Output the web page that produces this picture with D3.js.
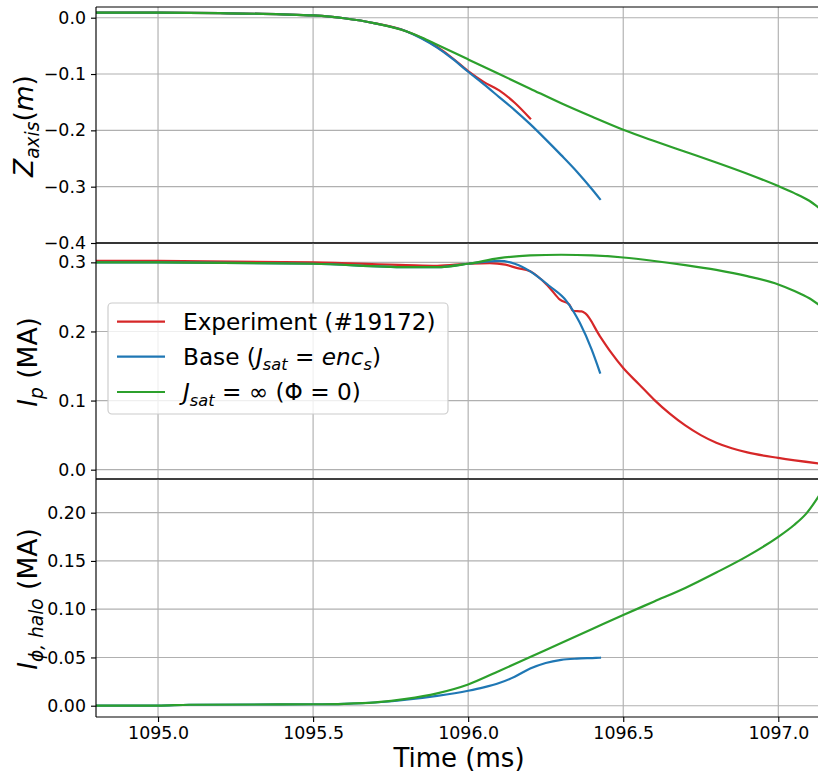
<!DOCTYPE html>
<html><head><meta charset="utf-8">
<script src="https://cdn.jsdelivr.net/npm/d3@7"></script>
<style>
body{margin:0;background:#fff}
text{font-family:"DejaVu Sans",sans-serif;fill:#000}
</style>
</head><body><svg id="c" width="818" height="772"></svg>
<script>
// ---------------- data ----------------
const seriesNames = ["Experiment (#19172)", "Base (J_sat = enc_s)", "J_sat = ∞ (Φ = 0)"];
const seriesColors = ["#d62728", "#1f77b4", "#2ca02c"];

const xTicks = [1095.0, 1095.5, 1096.0, 1096.5, 1097.0];
const zTicks = [0.0, -0.1, -0.2, -0.3, -0.4];
const ipTicks = [0.0, 0.1, 0.2, 0.3];
const haloTicks = [0.0, 0.05, 0.10, 0.15, 0.20];

// Z_axis (m)
const zExpT = [1094.8, 1095.0, 1095.2, 1095.4, 1095.5, 1095.6, 1095.7, 1095.8, 1095.85, 1095.9, 1095.95, 1096.0, 1096.05, 1096.1, 1096.15, 1096.2];
const zExpV = [0.009, 0.009, 0.008, 0.006, 0.004, -0.001, -0.010, -0.024, -0.036, -0.052, -0.072, -0.095, -0.114, -0.129, -0.151, -0.179];
const zBaseT = [1094.8, 1095.0, 1095.2, 1095.4, 1095.5, 1095.6, 1095.7, 1095.8, 1095.85, 1095.9, 1095.95, 1096.0, 1096.05, 1096.1, 1096.15, 1096.2, 1096.25, 1096.3, 1096.35, 1096.4, 1096.425];
const zBaseV = [0.009, 0.009, 0.008, 0.006, 0.004, -0.001, -0.010, -0.024, -0.037, -0.053, -0.073, -0.096, -0.118, -0.141, -0.164, -0.189, -0.216, -0.244, -0.273, -0.305, -0.322];
const zInfT = [1094.8, 1095.0, 1095.2, 1095.4, 1095.5, 1095.6, 1095.7, 1095.8, 1095.85, 1095.9, 1095.95, 1096.0, 1096.1, 1096.2, 1096.3, 1096.4, 1096.5, 1096.6, 1096.7, 1096.8, 1096.9, 1097.0, 1097.05, 1097.1, 1097.13];
const zInfV = [0.009, 0.009, 0.008, 0.006, 0.004, -0.001, -0.010, -0.024, -0.035, -0.048, -0.061, -0.074, -0.100, -0.126, -0.152, -0.176, -0.199, -0.219, -0.238, -0.257, -0.277, -0.299, -0.311, -0.325, -0.337];

// I_p (MA)
const ipExpT = [1094.8, 1095.0, 1095.5, 1095.8, 1095.9, 1096.0, 1096.07, 1096.12, 1096.156, 1096.2, 1096.231, 1096.263, 1096.296, 1096.326, 1096.338, 1096.366, 1096.378, 1096.425, 1096.46, 1096.5, 1096.55, 1096.6, 1096.65, 1096.7, 1096.75, 1096.8, 1096.85, 1096.9, 1097.0, 1097.13];
const ipExpV = [0.302, 0.302, 0.300, 0.296, 0.295, 0.298, 0.299, 0.2966, 0.292, 0.287, 0.277, 0.263, 0.246, 0.239, 0.230, 0.229, 0.226, 0.193, 0.170, 0.147, 0.124, 0.101, 0.081, 0.064, 0.050, 0.039, 0.031, 0.025, 0.017, 0.009];
const ipBaseT = [1094.8, 1095.0, 1095.5, 1095.8, 1095.9, 1096.0, 1096.07, 1096.1, 1096.15, 1096.2, 1096.263, 1096.317, 1096.36, 1096.398, 1096.425];
const ipBaseV = [0.300, 0.300, 0.298, 0.293, 0.293, 0.298, 0.3014, 0.302, 0.298, 0.287, 0.2654, 0.244, 0.2125, 0.174, 0.1405];
const ipInfT = [1094.8, 1095.0, 1095.5, 1095.8, 1095.9, 1096.0, 1096.1, 1096.2, 1096.3, 1096.4, 1096.5, 1096.6, 1096.7, 1096.8, 1096.9, 1097.0, 1097.05, 1097.1, 1097.13];
const ipInfV = [0.300, 0.300, 0.298, 0.293, 0.293, 0.298, 0.306, 0.310, 0.311, 0.310, 0.307, 0.302, 0.296, 0.289, 0.280, 0.268, 0.259, 0.248, 0.239];

// I_phi,halo (MA)
const haloExpT = [];
const haloExpV = [];
const haloBaseT = [1094.8, 1095.0, 1095.1, 1095.5, 1095.6, 1095.7, 1095.8, 1095.9, 1096.0, 1096.05, 1096.1, 1096.15, 1096.2, 1096.25, 1096.3, 1096.35, 1096.4, 1096.425];
const haloBaseV = [0.0, 0.0, 0.001, 0.0015, 0.002, 0.0033, 0.0062, 0.0102, 0.0155, 0.019, 0.0235, 0.030, 0.0385, 0.0443, 0.0475, 0.0488, 0.0494, 0.0497];
const haloInfT = [1094.8, 1095.0, 1095.1, 1095.5, 1095.6, 1095.7, 1095.8, 1095.9, 1096.0, 1096.1, 1096.2, 1096.3, 1096.4, 1096.5, 1096.6, 1096.7, 1096.8, 1096.9, 1097.0, 1097.05, 1097.09, 1097.13];
const haloInfV = [0.0, 0.0, 0.001, 0.0015, 0.002, 0.0035, 0.007, 0.0128, 0.022, 0.036, 0.0505, 0.065, 0.0795, 0.094, 0.108, 0.122, 0.138, 0.155, 0.175, 0.187, 0.199, 0.217];

// ---------------- layout ----------------
const svg = d3.select("#c");
const left = 96, right = 818;
const x = d3.scaleLinear().domain([1094.8, 1097.128]).range([left, right]);

const panels = [
  {top: 7, bottom: 243, domain: [-0.4, 0.019], ticks: zTicks, fmt: v => d3.format(".1f")(v).replace("-", "\u2212"),
   series: [[zExpT, zExpV], [zBaseT, zBaseV], [zInfT, zInfV]]},
  {top: 243, bottom: 479, domain: [-0.0135, 0.328], ticks: ipTicks, fmt: d3.format(".1f"),
   series: [[ipExpT, ipExpV], [ipBaseT, ipBaseV], [ipInfT, ipInfV]]},
  {top: 479, bottom: 717, domain: [-0.0117, 0.2349], ticks: haloTicks, fmt: d3.format(".2f"),
   series: [[haloExpT, haloExpV], [haloBaseT, haloBaseV], [haloInfT, haloInfV]]}
];

const tickFont = "17.4px";
const lw = 2.2, gw = 1.15;

panels.forEach((p, i) => {
  const y = d3.scaleLinear().domain(p.domain).range([p.bottom, p.top]);
  const g = svg.append("g");
  const cid = "clip" + i;
  svg.append("clipPath").attr("id", cid).append("rect")
    .attr("x", left).attr("y", p.top).attr("width", right - left).attr("height", p.bottom - p.top);

  // grid
  g.append("g").selectAll("line").data(xTicks).join("line")
    .attr("x1", d => x(d)).attr("x2", d => x(d)).attr("y1", p.top).attr("y2", p.bottom)
    .attr("stroke", "#b0b0b0").attr("stroke-width", gw);
  g.append("g").selectAll("line").data(p.ticks).join("line")
    .attr("x1", left).attr("x2", right).attr("y1", d => y(d)).attr("y2", d => y(d))
    .attr("stroke", "#b0b0b0").attr("stroke-width", gw);

  // lines
  const line = d3.line().x(d => x(d[0])).y(d => y(d[1])).curve(d3.curveMonotoneX);
  const lg = g.append("g").attr("clip-path", `url(#${cid})`);
  p.series.forEach((s, k) => {
    if (!s[0].length) return;
    const pts = s[0].map((t, j) => [t, s[1][j]]);
    lg.append("path").datum(pts).attr("d", line).attr("fill", "none")
      .attr("stroke", seriesColors[k]).attr("stroke-width", lw)
      .attr("stroke-linejoin", "round").attr("stroke-linecap", "square");
  });

  // y axis
  const ay = g.append("g").attr("transform", `translate(${left},0)`)
    .call(d3.axisLeft(y).tickValues(p.ticks).tickFormat(p.fmt).tickSize(5).tickPadding(5));
  ay.attr("font-size", null).attr("font-family", null);
  ay.select(".domain").remove();
  ay.selectAll(".tick line").attr("stroke", "#000").attr("stroke-width", gw);
  ay.selectAll(".tick text").style("font-size", tickFont).attr("fill", "#000");

  // spines
  g.append("line").attr("x1", left).attr("x2", left).attr("y1", p.top).attr("y2", p.bottom)
    .attr("stroke", "#000").attr("stroke-width", gw);
  g.append("line").attr("x1", left).attr("x2", right).attr("y1", p.top).attr("y2", p.top)
    .attr("stroke", "#000").attr("stroke-width", gw);
  g.append("line").attr("x1", left).attr("x2", right).attr("y1", p.bottom).attr("y2", p.bottom)
    .attr("stroke", "#000").attr("stroke-width", gw);
});

// x axis (bottom panel)
const ax = svg.append("g").attr("transform", `translate(0,717)`)
  .call(d3.axisBottom(x).tickValues(xTicks).tickFormat(d3.format(".1f")).tickSize(5).tickPadding(5));
ax.attr("font-size", null).attr("font-family", null);
ax.select(".domain").remove();
ax.selectAll(".tick line").attr("stroke", "#000").attr("stroke-width", gw);
ax.selectAll(".tick text").style("font-size", tickFont).attr("fill", "#000");

svg.append("text").attr("x", 459).attr("y", 767).attr("text-anchor", "middle")
  .style("font-size", "26px").text("Time (ms)");

// helper for math-like text
function rich(sel, parts, size) {
  parts.forEach(pt => {
    const ts = sel.append("tspan").text(pt.t);
    if (pt.i) ts.style("font-style", "italic");
    if (pt.sub) { ts.style("font-size", (size * 0.7) + "px").attr("dy", size * 0.22); }
    if (pt.up) { ts.attr("dy", -size * 0.22); }
  });
}

const labSize = 26.5;
function ylabel(cx, cy, parts) {
  const t = svg.append("text").attr("transform", `translate(${cx},${cy}) rotate(-90)`)
    .attr("text-anchor", "middle").style("font-size", labSize + "px");
  rich(t, parts, labSize);
}
ylabel(33, 126, [{t: "Z", i: 1}, {t: "axis", i: 1, sub: 1}, {t: "(", up: 1}, {t: "m", i: 1}, {t: ")"}]);
ylabel(37, 362, [{t: "I", i: 1}, {t: "p", i: 1, sub: 1}, {t: " (MA)", up: 1}]);
ylabel(37, 599, [{t: "I", i: 1}, {t: "ϕ, halo", i: 1, sub: 1}, {t: " (MA)", up: 1}]);

// legend
const lgX = 108, lgY = 303, lgW = 340, lgH = 111;
const leg = svg.append("g");
leg.append("rect").attr("x", lgX).attr("y", lgY).attr("width", lgW).attr("height", lgH)
  .attr("rx", 4).attr("fill", "#fff").attr("fill-opacity", 0.8)
  .attr("stroke", "#cccccc").attr("stroke-width", gw);
const legSize = 23.2;
const legParts = [
  [{t: "Experiment (#19172)"}],
  [{t: "Base ("}, {t: "J", i: 1}, {t: "sat", i: 1, sub: 1}, {t: " = ", up: 1}, {t: "enc", i: 1}, {t: "s", i: 1, sub: 1}, {t: ")", up: 1}],
  [{t: "J", i: 1}, {t: "sat", i: 1, sub: 1}, {t: " = ∞ (Φ = 0)", up: 1}]
];
const rowY = [321.7, 356.7, 392];
seriesNames.forEach((n, k) => {
  leg.append("line").attr("x1", 117).attr("x2", 165).attr("y1", rowY[k]).attr("y2", rowY[k])
    .attr("stroke", seriesColors[k]).attr("stroke-width", lw);
  const t = leg.append("text").attr("x", 183).attr("y", rowY[k] + 8.4).style("font-size", legSize + "px");
  rich(t, legParts[k], legSize);
});
</script></body></html>
